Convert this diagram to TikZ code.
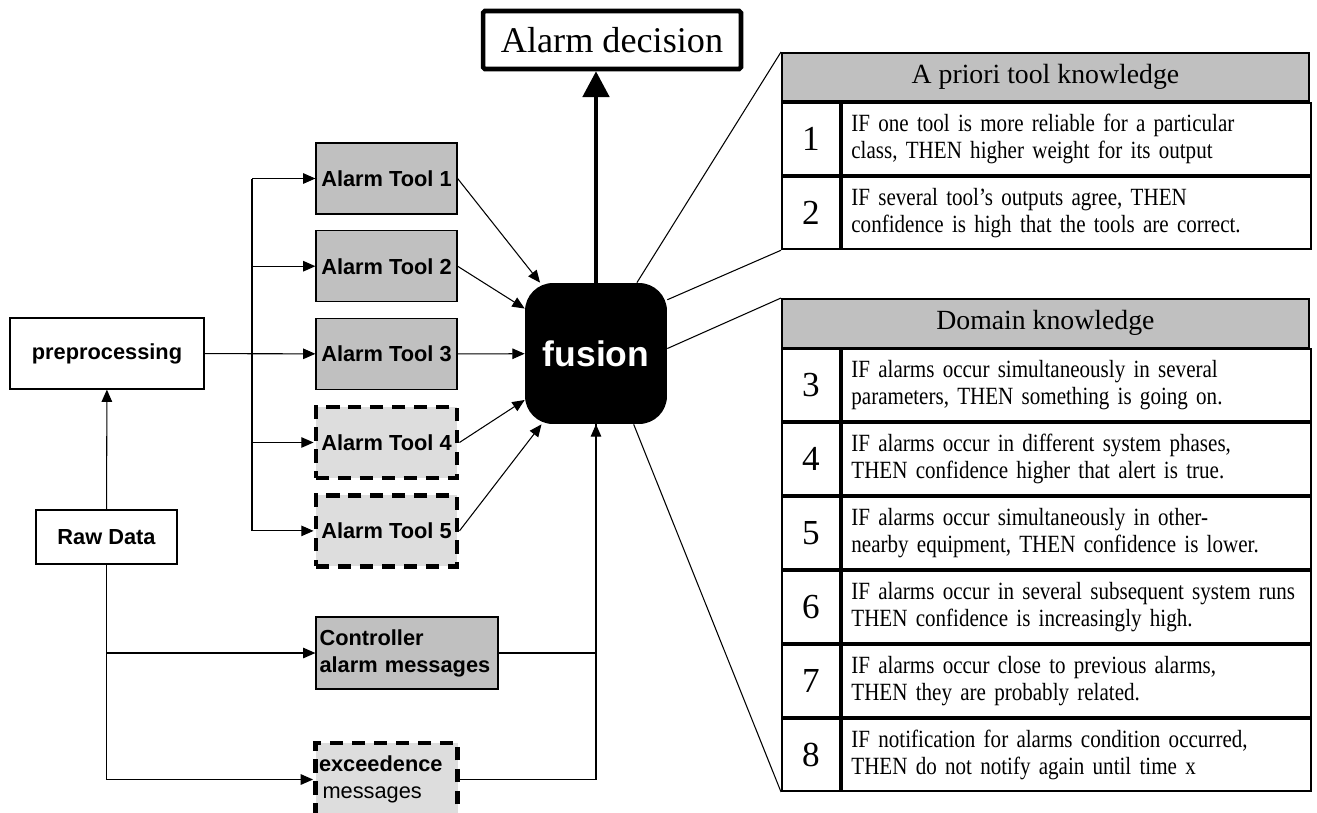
\documentclass[tikz,border=0pt]{standalone}
\usepackage{fontspec}
\setmainfont{Liberation Serif}
\setsansfont{Liberation Sans}
\newfontfamily\rulefont{Liberation Serif}[Ligatures=TeX, FakeStretch=0.85, WordSpace=0.8]
\usetikzlibrary{positioning,arrows.meta}
\definecolor{toolgray}{HTML}{C0C0C0}
\definecolor{sparegray}{HTML}{DDDDDD}

\begin{document}
\begin{tikzpicture}[x=0.02cm, y=-0.02cm,
  box/.style={draw, line width=0.7pt, minimum width=2.82cm, minimum height=1.42cm,
    inner sep=2pt, font=\sffamily\bfseries\fontsize{12.4pt}{15.3pt}\selectfont},
  tool/.style={box, fill=toolgray},
  spare/.style={box, fill=sparegray, line width=2.8pt, dash pattern=on 7.5pt off 5pt},
  thead/.style={draw, line width=1.1pt, fill=toolgray, anchor=north west,
    minimum width=10.54cm, minimum height=0.97cm,
    font=\fontsize{15.8pt}{18pt}\selectfont},
  rnum/.style={draw, line width=1.1pt, anchor=north west, inner sep=0pt,
    minimum width=1.16cm, minimum height=1.44cm,
    font=\fontsize{20pt}{22pt}\selectfont},
  rtext/.style={draw, line width=1.1pt, anchor=north west, align=left,
    text width=9.0cm, inner xsep=0.19cm, minimum height=1.44cm,
    font=\rulefont\fontsize{14.1pt}{15.3pt}\selectfont},
  link/.style={line width=0.6pt},
  >={Triangle[length=7pt, width=6pt]}]
\useasboundingbox (0,0) rectangle (1317,812);

% inputs
\node[box, minimum width=3.88cm] (prep) at (107,353.5) {preprocessing};
\node[box, minimum height=1.08cm] (raw) at (106.5,537) {Raw Data};

% alarm tools
\node[tool] (t1) at (386.5,178.5) {Alarm Tool 1};
\node[tool, below=0.31cm of t1] (t2) {Alarm Tool 2};
\node[tool, below=0.31cm of t2] (t3) {Alarm Tool 3};
\node[spare, below=0.29cm of t3] (t4) {Alarm Tool 4};
\node[spare, below=0.25cm of t4] (t5) {Alarm Tool 5};
\node[tool, minimum width=3.64cm, minimum height=1.44cm, text width=3.5cm,
  align=left] (ctrl) at (407,653) {Controller\\alarm messages};
\node[spare, minimum width=2.84cm, minimum height=1.46cm, text width=2.7cm,
  align=left] (exc) at (386.5,779.5) {exceedence\\\mdseries\hspace*{2pt}messages};

% fusion and decision
\node[fill=black, text=white, rounded corners=0.56cm, minimum width=2.84cm,
  minimum height=2.82cm, font=\sffamily\bfseries\fontsize{20.2pt}{24pt}\selectfont]
  (fusion) at (596,353.5) {fusion};
\node[draw, line width=2.6pt, rounded corners=1pt, minimum width=5.16cm,
  minimum height=1.16cm, font=\fontsize{20.6pt}{24pt}\selectfont]
  (decision) at (612,40) {Alarm decision};

% knowledge tables
\node[thead] (aprhead) at (781,52) {A priori tool knowledge};
\node[rnum] (n1) at (aprhead.south west) {1};
\node[rtext] (r1) at (n1.north east) {IF one tool is more reliable for a particular\\
  class, THEN higher weight for its output};
\node[rnum] (n2) at (n1.south west) {2};
\node[rtext] (r2) at (n2.north east) {IF several tool's outputs agree, THEN\\
  confidence is high that the tools are correct.};

\node[thead] (domhead) at (781,298) {Domain knowledge};
\node[rnum] (n3) at (domhead.south west) {3};
\node[rtext] (r3) at (n3.north east) {IF alarms occur simultaneously in several\\
  parameters, THEN something is going on.};
\node[rnum] (n4) at (n3.south west) {4};
\node[rtext] (r4) at (n4.north east) {IF alarms occur in different system phases,\\
  THEN confidence higher that alert is true.};
\node[rnum] (n5) at (n4.south west) {5};
\node[rtext] (r5) at (n5.north east) {IF alarms occur simultaneously in other-\\
  nearby equipment, THEN confidence is lower.};
\node[rnum] (n6) at (n5.south west) {6};
\node[rtext] (r6) at (n6.north east) {IF alarms occur in several subsequent system runs\\
  THEN confidence is increasingly high.};
\node[rnum] (n7) at (n6.south west) {7};
\node[rtext] (r7) at (n7.north east) {IF alarms occur close to previous alarms,\\
  THEN they are probably related.};
\node[rnum] (n8) at (n7.south west) {8};
\node[rtext] (r8) at (n8.north east) {IF notification for alarms condition occurred,\\
  THEN do not notify again until time x};

% connectors
\coordinate (fork) at (252,353.5);
\draw[link, ->] (raw) -- (prep);
\draw[link, ->] (prep) -- (t3);
\draw[link] (fork |- t1.west) -- (fork |- t5.west);
\draw[link, ->] (fork |- t1.west) -- (t1);
\draw[link, ->] (fork |- t2.west) -- (t2);
\draw[link, ->] (fork |- t4.west) -- (t4);
\draw[link, ->] (fork |- t5.west) -- (t5);
\draw[link, ->] (raw.south) |- (exc.west);
\draw[link, ->] (raw.south |- ctrl.west) -- (ctrl.west);
\draw[link, ->] (t1.east) -- (fusion);
\draw[link, ->] (t2.east) -- (fusion);
\draw[link, ->] (t3.east) -- (fusion);
\draw[link, ->] (t4.east) -- (fusion);
\draw[link, ->] (t5.east) -- (fusion);
\draw[link] (ctrl.east) -| (fusion.south);
\draw[link, ->] (exc.east) -| (fusion.south);
\draw[line width=2.3pt, -{Triangle[length=14.7pt, width=15pt]}]
  (fusion.north) -- (fusion.north |- decision.south);
\draw[link] (fusion.60) -- (aprhead.north west);
\draw[link] (fusion.37) -- (n2.south west);
\draw[link] (fusion.4) -- (domhead.north west);
\draw[link] (fusion.-62) -- (n8.south west);
\end{tikzpicture}
\end{document}
